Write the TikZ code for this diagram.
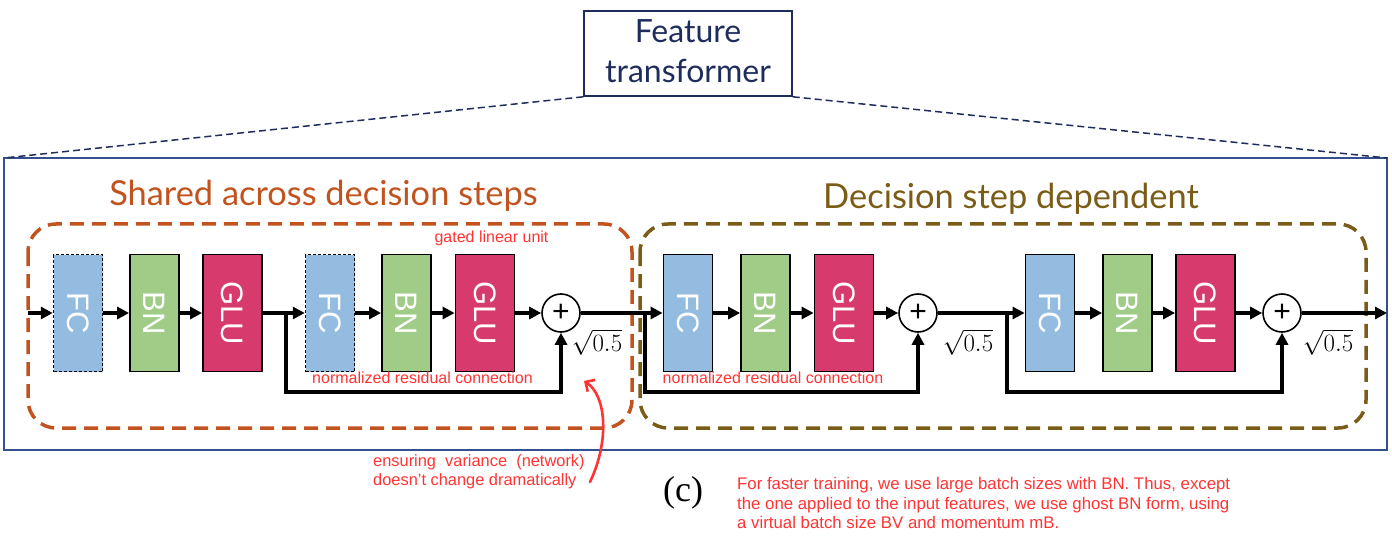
\documentclass[tikz,border=0pt]{standalone}
\usepackage{fontspec}
\usepackage{graphicx}
\setmainfont{Liberation Sans}
\newfontfamily\titlefont{Lato}
\newfontfamily\serifc{Liberation Serif}
\usetikzlibrary{arrows.meta,calc}
\definecolor{navy}{HTML}{1F2D5C}
\definecolor{frameblue}{HTML}{35508F}
\definecolor{sharedcol}{HTML}{C2531F}
\definecolor{depcol}{HTML}{7A5C16}
\definecolor{fcblue}{HTML}{93BCE0}
\definecolor{bngreen}{HTML}{A0CC88}
\definecolor{glured}{HTML}{D73A6C}
\definecolor{annored}{HTML}{FF3333}
\tikzset{
  blk/.style={draw=black, line width=1.8pt, minimum height=117pt, inner sep=0pt,
     text=white, font=\fontsize{31}{31}\selectfont},
  fcbox/.style={blk, fill=fcblue, minimum width=49pt},
  fcdash/.style={fcbox, densely dashed, line width=1.5pt},
  bnbox/.style={blk, fill=bngreen, minimum width=49pt},
  glubox/.style={blk, fill=glured, minimum width=59pt},
  plusnode/.style={circle, draw=black, line width=1.6pt, minimum size=38pt, inner sep=0pt,
     font=\fontsize{30}{30}\selectfont},
  flow/.style={line width=3.6pt, -{Triangle[length=12pt,width=12pt]}},
  resid/.style={line width=3.6pt, -{Triangle[length=12pt,width=12pt]}},
  sqrtlab/.style={font=\fontsize{28}{28}\selectfont},
  annot/.style={text=annored, font=\fontsize{16}{19.5}\selectfont, align=left},
  region/.style={line width=3.5pt, dash pattern=on 14pt off 8pt, rounded corners=28pt},
}
\newcommand{\vlab}[1]{\rotatebox{-90}{#1}}
\begin{document}
\begin{tikzpicture}[x=1pt,y=-1pt]
\useasboundingbox (0,0) rectangle (1392,540);

% top box
\node[draw=navy, line width=1.6pt, minimum width=208pt, minimum height=85pt, inner sep=0pt] (ft) at (688,53.5) {};
\node[text=navy, font=\titlefont\fontsize{32}{32}\selectfont, anchor=base] (ft1) at (688,43) {Feature};
\node[text=navy, font=\titlefont\fontsize{32}{32}\selectfont, anchor=base] (ft2) at (688,83) {transformer};

% big frame
\draw[frameblue, line width=1.6pt] (4,158) rectangle (1387,450);
\coordinate (fl) at (4,158);
\coordinate (fr) at (1387,158);
\draw[navy, line width=1.5pt, dash pattern=on 7pt off 4pt] (ft.south west) -- (fl);
\draw[navy, line width=1.5pt, dash pattern=on 7pt off 4pt] (ft.south east) -- (fr);

% regions
\draw[region, sharedcol] (28,224) rectangle (632,428);
\draw[region, depcol] (640,224) rectangle (1366,428);
\node[text=sharedcol, font=\titlefont\fontsize{34.4}{34.4}\selectfont, anchor=base] (t1) at (323.5,206) {Shared across decision steps};
\node[text=depcol, font=\titlefont\fontsize{34.4}{34.4}\selectfont, anchor=base] (t2) at (1011,208) {Decision step dependent};

% blocks
\node[fcdash] (fc1) at (78,313) {\vlab{FC}};
\node[bnbox] (bn1) at (154.5,313) {\vlab{BN}};
\node[glubox] (glu1) at (232.5,313) {\vlab{GLU}};
\node[fcdash] (fc2) at (330,313) {\vlab{FC}};
\node[bnbox] (bn2) at (406.5,313) {\vlab{BN}};
\node[glubox] (glu2) at (485,313) {\vlab{GLU}};
\node[plusnode] (p1) at (561,313) {+};

\node[fcbox] (fc3) at (688,313) {\vlab{FC}};
\node[bnbox] (bn3) at (765.5,313) {\vlab{BN}};
\node[glubox] (glu3) at (844,313) {\vlab{GLU}};
\node[plusnode] (p2) at (918,313) {+};

\node[fcbox] (fc4) at (1050,313) {\vlab{FC}};
\node[bnbox] (bn4) at (1127.5,313) {\vlab{BN}};
\node[glubox] (glu4) at (1205.5,313) {\vlab{GLU}};
\node[plusnode] (p3) at (1282,313) {+};

\node[sqrtlab] (s1) at (597,342) {$\sqrt{0.5}$};
\node[sqrtlab] (s2) at (968,342) {$\sqrt{0.5}$};
\node[sqrtlab] (s3) at (1328,342) {$\sqrt{0.5}$};

% coordinates
\coordinate (in) at (28,313);
\coordinate (out) at (1387,313);
\coordinate (b1) at (286,313);
\coordinate (b2) at (645,313);
\coordinate (b3) at (1007,313);

% flow
\draw[flow] (in) -- (fc1);
\draw[flow] (fc1) -- (bn1);
\draw[flow] (bn1) -- (glu1);
\draw[flow] (glu1) -- (fc2);
\draw[flow] (fc2) -- (bn2);
\draw[flow] (bn2) -- (glu2);
\draw[flow] (glu2) -- (p1);
\draw[flow] (p1) -- (fc3);
\draw[flow] (fc3) -- (bn3);
\draw[flow] (bn3) -- (glu3);
\draw[flow] (glu3) -- (p2);
\draw[flow] (p2) -- (fc4);
\draw[flow] (fc4) -- (bn4);
\draw[flow] (bn4) -- (glu4);
\draw[flow] (glu4) -- (p3);
\draw[flow] (p3) -- (out);

% residuals
\draw[resid] (b1) -- ++(0,79) -| (p1.south);
\draw[resid] (b2) -- ++(0,79) -| (p2.south);
\draw[resid] (b3) -- ++(0,79) -| (p3.south);

% annotations
\node[annot, anchor=base] (gl) at (491.5,243) {gated linear unit};
\node[annot, anchor=base] (nr1) at (422.5,383) {normalized residual connection};
\node[annot, anchor=base] (nr2) at (773,383) {normalized residual connection};
\node[annot, anchor=north west, inner sep=0pt, font=\fontsize{16.4}{19.5}\selectfont] (ens) at (373,454) {ensuring\ \ variance\ \ (network)\\doesn’t change dramatically};
\node[annot, anchor=north west, inner sep=0pt, font=\fontsize{16.8}{19.8}\selectfont] (fast) at (737,477) {For faster training, we use large batch sizes with BN. Thus, except\\the one applied to the input features, we use ghost BN form, using\\a virtual batch size BV and momentum mB.};
\node[font=\serifc\fontsize{36}{36}\selectfont] (cl) at (683,493) {(c)};

\coordinate (ca) at (590,482);
\coordinate (cb) at (584,381);
\draw[annored, line width=2.6pt, line cap=round, -{Straight Barb[length=7pt,width=14pt]}] (ca) .. controls (610,440) and (606,395) .. (cb);
\end{tikzpicture}
\end{document}
